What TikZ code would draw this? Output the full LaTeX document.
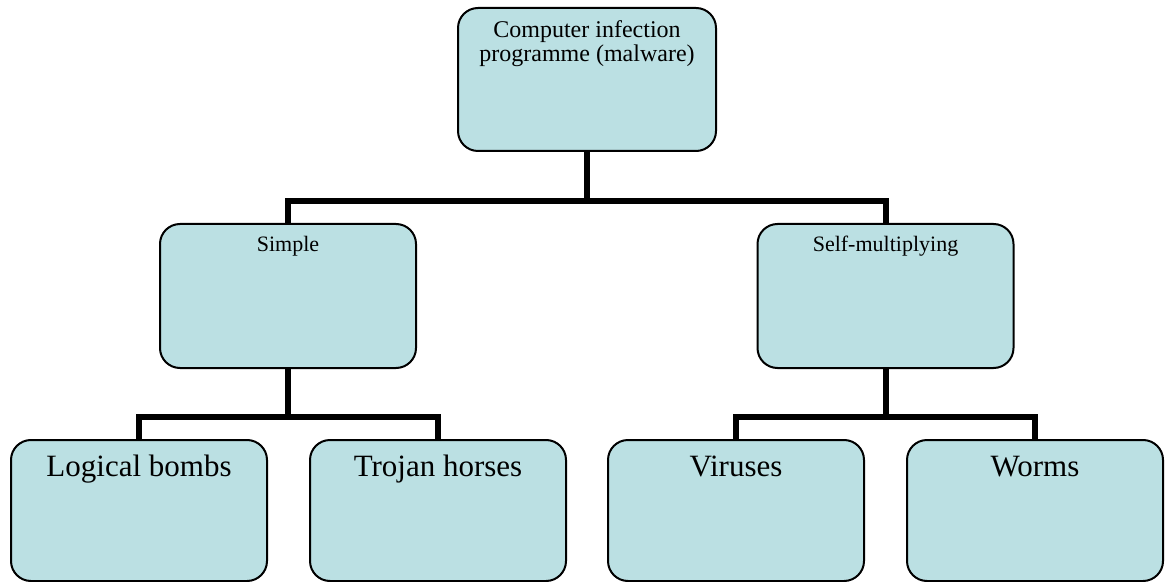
\documentclass[tikz,border=0pt]{standalone}
\usepackage{fontspec}
\setmainfont{Liberation Serif}
\usetikzlibrary{positioning}
\definecolor{boxfill}{RGB}{187,224,227}

\begin{document}
\begin{tikzpicture}[
x=0.5pt, y=-0.5pt,
box/.style={
	% The shape:
	rectangle, rounded corners=10pt,
	% The size:
	minimum width=128pt, inner sep=0pt,
	% The border:
	draw=black, line width=1pt,
	% The filling:
	fill=boxfill},
root/.style={
	box, minimum width=129pt,
	% Font
	font=\fontsize{12}{12}\selectfont,
	text height=15pt, text depth=56.5pt},
branch/.style={
	box,
	% Font
	font=\fontsize{11}{13}\selectfont,
	text height=13.9pt, text depth=58.1pt},
leaf/.style={
	box,
	% Font
	font=\fontsize{15.5}{18}\selectfont,
	text height=18pt, text depth=52.5pt},
link/.style={line width=3pt, draw=black},
node distance=20.5pt,
]
\useasboundingbox (0,0) rectangle (1165,582);

\node (malware) [root, anchor=north] at (587,7)
	{\begin{tabular}[t]{@{}c@{}}Computer infection\\programme (malware)\end{tabular}};

\node (simple) [branch, anchor=north] at (288,223) {Simple};
\node (selfmult) [branch, anchor=north] at (885.5,223) {Self-multiplying};

\node (bombs) [leaf, anchor=north] at (139,439) {Logical bombs};
\node (trojans) [leaf, right=of bombs] {Trojan horses};
\node (viruses) [leaf, anchor=north] at (736,439) {Viruses};
\node (worms) [leaf, right=of viruses] {Worms};

\draw[link] (malware.south) -- ++(0,49) coordinate (fork);
\draw[link] (fork) -| (simple.north);
\draw[link] (fork) -| (selfmult.north);
\draw[link] (simple.south) -- ++(0,47.5) coordinate (fork_1);
\draw[link] (fork_1) -| (bombs.north);
\draw[link] (fork_1) -| (trojans.north);
\draw[link] (selfmult.south) -- ++(0,47.5) coordinate (fork_2);
\draw[link] (fork_2) -| (viruses.north);
\draw[link] (fork_2) -| (worms.north);
\end{tikzpicture}
\end{document}
